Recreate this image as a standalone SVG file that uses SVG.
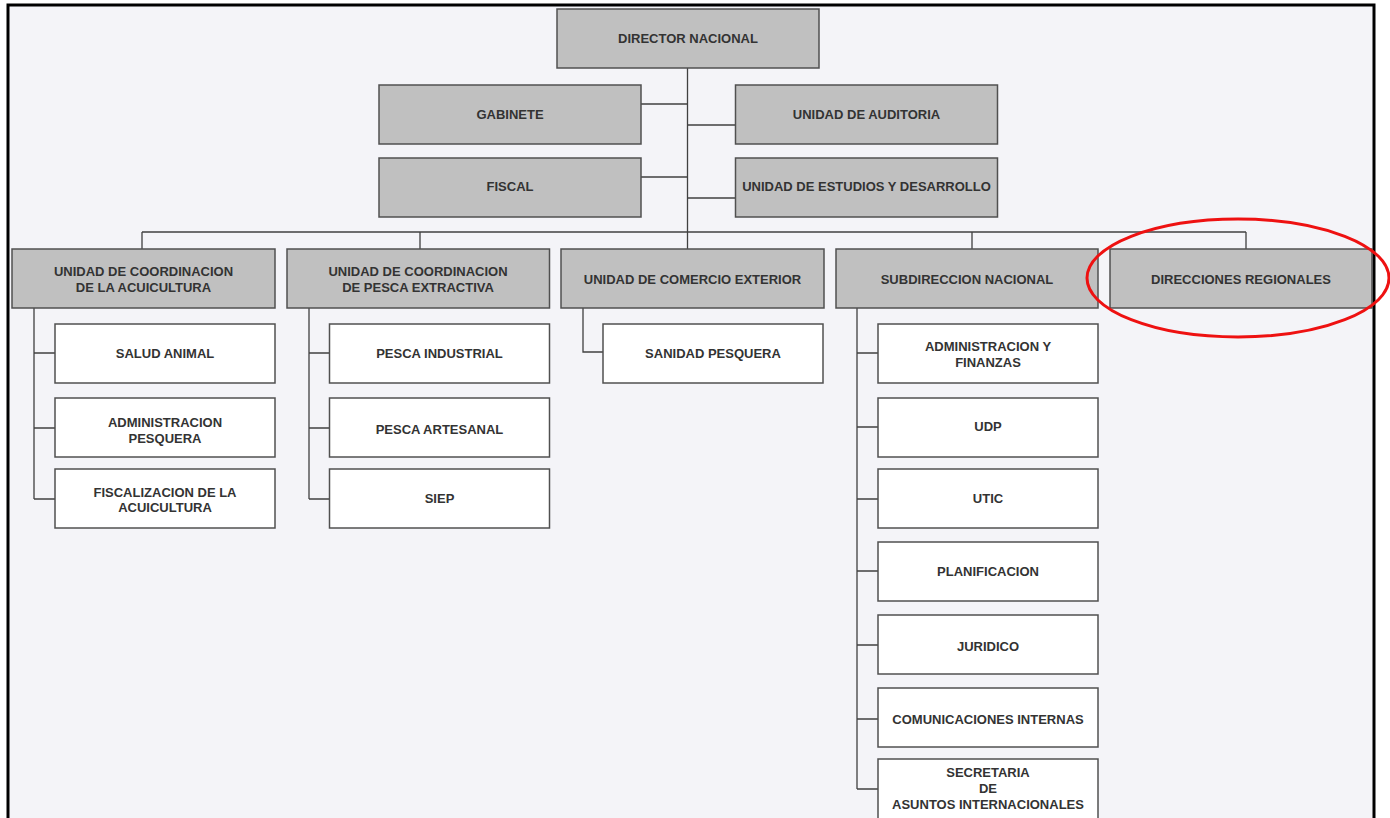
<svg xmlns="http://www.w3.org/2000/svg" width="1390" height="818" viewBox="0 0 1390 818">
<style>
.g{fill:#c0c0c0;stroke:#505050;stroke-width:1.5}
.w{fill:#ffffff;stroke:#505050;stroke-width:1.5}
text{font-family:"Liberation Sans",Arial,sans-serif;font-weight:bold;font-size:13px;fill:#333333;text-anchor:middle}
.c{fill:none;stroke:#404040;stroke-width:1.3}
</style>
<rect x="0" y="0" width="1390" height="818" fill="#ffffff"/>
<rect x="8" y="5" width="1366" height="830" fill="#f4f4f8" stroke="#000000" stroke-width="3"/>
<g id="connectors" class="c">
<path d="M687.5 68V249M641 104H687.5M687.5 125H735M641 177H687.5M687.5 198H735"/>
<path d="M142 232H1246M142 232V249M420 232V249M972 232V249M1246 232V249"/>
<path d="M34 308V499M34 353H55M34 428H55M34 499H55"/>
<path d="M309 308V499M309 353H329M309 428H329M309 499H329"/>
<path d="M583 308V352H603"/>
<path d="M857 308V789M857 353H878M857 427H878M857 499H878M857 571H878M857 645H878M857 719H878M857 789H878"/>
</g>
<g id="director"><rect class="g" x="557" y="9" width="262" height="59"/><text x="688" y="43">DIRECTOR NACIONAL</text></g>
<g id="gabinete"><rect class="g" x="379" y="85" width="262" height="59"/><text x="510" y="119">GABINETE</text></g>
<g id="auditoria"><rect class="g" x="735.5" y="85" width="262" height="59"/><text x="866.5" y="119">UNIDAD DE AUDITORIA</text></g>
<g id="fiscal"><rect class="g" x="379" y="158" width="262" height="59"/><text x="510" y="191">FISCAL</text></g>
<g id="estudios"><rect class="g" x="735.5" y="158" width="262" height="59"/><text x="866.5" y="191">UNIDAD DE ESTUDIOS Y DESARROLLO</text></g>
<g id="acuicultura"><rect class="g" x="12" y="249" width="263" height="59"/><text x="143.5" y="276">UNIDAD DE COORDINACION</text><text x="143.5" y="292">DE LA ACUICULTURA</text></g>
<g id="pesca"><rect class="g" x="287" y="249" width="262.5" height="59"/><text x="418" y="276">UNIDAD DE COORDINACION</text><text x="418" y="292">DE PESCA EXTRACTIVA</text></g>
<g id="comercio"><rect class="g" x="561" y="249" width="263" height="59"/><text x="692.5" y="284">UNIDAD DE COMERCIO EXTERIOR</text></g>
<g id="subdireccion"><rect class="g" x="836" y="249" width="262" height="59"/><text x="967" y="284">SUBDIRECCION NACIONAL</text></g>
<g id="regionales"><rect class="g" x="1110" y="249" width="262" height="59"/><text x="1241" y="284">DIRECCIONES REGIONALES</text></g>
<g id="salud"><rect class="w" x="55" y="324" width="220" height="59"/><text x="165" y="358">SALUD ANIMAL</text></g>
<g id="admpesquera"><rect class="w" x="55" y="398" width="220" height="59"/><text x="165" y="427">ADMINISTRACION</text><text x="165" y="443">PESQUERA</text></g>
<g id="fiscalizacion"><rect class="w" x="55" y="469" width="220" height="59"/><text x="165" y="497">FISCALIZACION DE LA</text><text x="165" y="512">ACUICULTURA</text></g>
<g id="industrial"><rect class="w" x="329.5" y="324" width="220" height="59"/><text x="439.5" y="358">PESCA INDUSTRIAL</text></g>
<g id="artesanal"><rect class="w" x="329.5" y="398" width="220" height="59"/><text x="439.5" y="434">PESCA ARTESANAL</text></g>
<g id="siep"><rect class="w" x="329.5" y="469" width="220" height="59"/><text x="439.5" y="503">SIEP</text></g>
<g id="sanidad"><rect class="w" x="603" y="324" width="220" height="59"/><text x="713" y="358">SANIDAD PESQUERA</text></g>
<g id="finanzas"><rect class="w" x="878" y="324" width="220" height="59"/><text x="988" y="351">ADMINISTRACION Y</text><text x="988" y="367">FINANZAS</text></g>
<g id="udp"><rect class="w" x="878" y="398" width="220" height="59"/><text x="988" y="431">UDP</text></g>
<g id="utic"><rect class="w" x="878" y="469" width="220" height="59"/><text x="988" y="503">UTIC</text></g>
<g id="planificacion"><rect class="w" x="878" y="542" width="220" height="59"/><text x="988" y="576">PLANIFICACION</text></g>
<g id="juridico"><rect class="w" x="878" y="615" width="220" height="59"/><text x="988" y="651">JURIDICO</text></g>
<g id="comunicaciones"><rect class="w" x="878" y="688" width="220" height="59"/><text x="988" y="724">COMUNICACIONES INTERNAS</text></g>
<g id="secretaria"><rect class="w" x="878" y="759" width="220" height="65"/><text x="988" y="777">SECRETARIA</text><text x="988" y="793">DE</text><text x="988" y="809">ASUNTOS INTERNACIONALES</text></g>
<ellipse cx="1238" cy="278" rx="151" ry="59" fill="none" stroke="#ee1111" stroke-width="3"/>
</svg>
